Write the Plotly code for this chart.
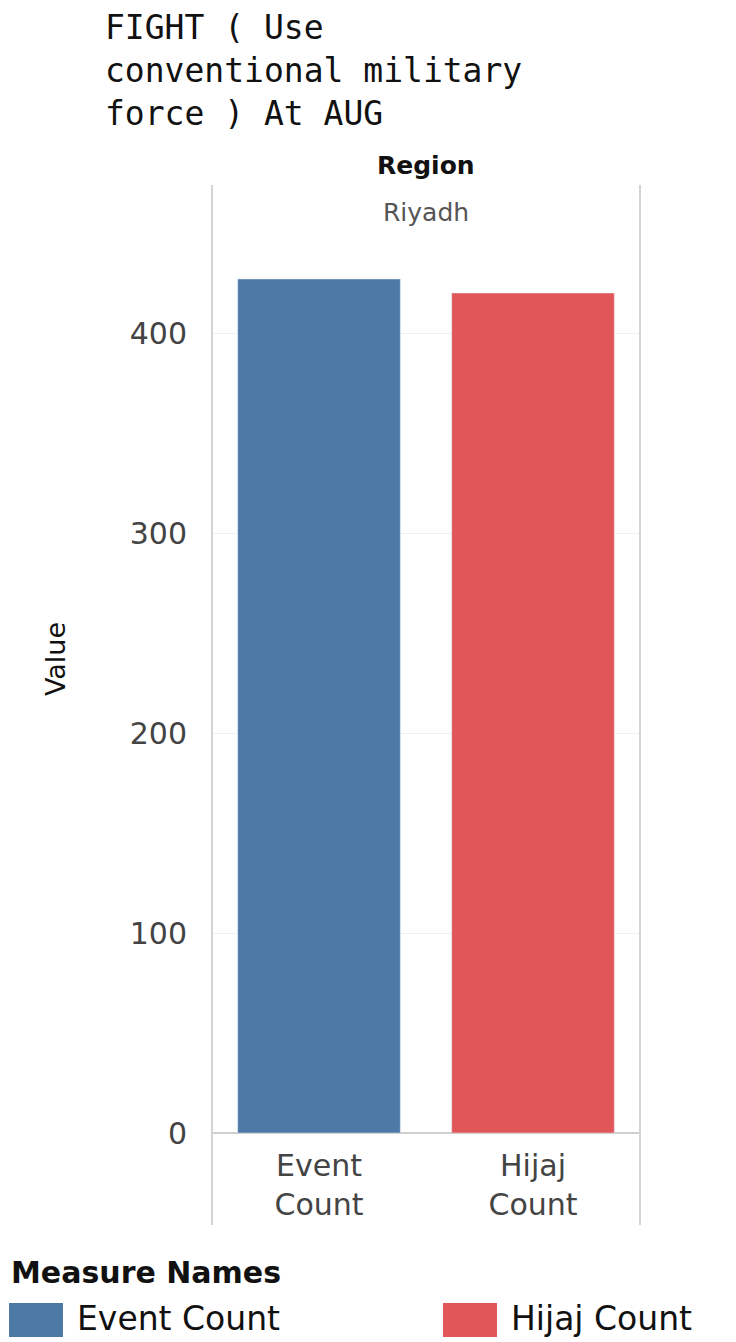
import plotly.graph_objects as go

categories = ["Event Count", "Hijaj Count"]
tick_labels = ["Event<br>Count", "Hijaj<br>Count"]
values = [427, 420]
colors = ["#4E79A7", "#E15759"]
title_lines = ["FIGHT ( Use", "conventional military", "force ) At AUG"]
region_header = "Region"
region_value = "Riyadh"
legend_title = "Measure Names"

OFF = 8  # page body margin
W, H = 736 - OFF, 1342 - OFF
# plot area in reference pixels: x 212..640, y 185..1133
L, R, T, B = 212 - OFF, W - (640 - OFF), 185 - OFF, H - (1133 - OFF)
plot_w = W - L - R
plot_h = H - T - B

def py(pix):
    return (H - B - (pix - OFF)) / plot_h

def px(pix):
    return ((pix - OFF) - L) / plot_w

fig = go.Figure()
for cat, val, col in zip(categories, values, colors):
    fig.add_trace(go.Bar(x=[cat], y=[val], name=cat, marker_color=col,
                         width=0.76, showlegend=False))

fig.update_layout(
    width=W, height=H,
    margin=dict(l=L, r=R, t=T, b=B, autoexpand=False),
    plot_bgcolor="white", paper_bgcolor="white",
    font=dict(family="DejaVu Sans", color="#333"),
    showlegend=False,
    xaxis=dict(tickmode="array", tickvals=categories, ticktext=tick_labels,
               tickfont=dict(size=30, color="#444"), showgrid=False,
               showline=False, zeroline=False, ticks="", automargin=False,
               ticklabelstandoff=12),
    yaxis=dict(range=[0, 474], tickvals=[0, 100, 200, 300, 400],
               tickfont=dict(size=30, color="#444"), showgrid=True,
               gridcolor="#f0f0f0", gridwidth=1, zeroline=True,
               zerolinecolor="#cfcfcf", zerolinewidth=2, automargin=False,
               title=dict(text="Value", font=dict(size=27, color="#111"),
                          standoff=56), ticklabelstandoff=24),
)

fig.add_annotation(text="<br>".join(title_lines), xref="paper", yref="paper",
                   x=px(103), xanchor="left", align="left",
                   y=py(6), yanchor="top", showarrow=False,
                   font=dict(family="DejaVu Sans Mono", size=33, color="#111"))

fig.add_annotation(text="<b>" + region_header + "</b>", xref="paper", yref="paper",
                   x=0.5, y=py(165), yanchor="middle", showarrow=False,
                   font=dict(size=25, color="#111"))
fig.add_annotation(text=region_value, xref="paper", yref="paper",
                   x=0.5, y=py(213), yanchor="middle", showarrow=False,
                   font=dict(size=25, color="#555"))

for xp in [0, 1]:
    fig.add_shape(type="line", xref="paper", yref="paper", x0=xp, x1=xp,
                  y0=py(1225), y1=py(185), line=dict(color="#d4d4d4", width=2))

# legend drawn manually
fig.add_annotation(text="<b>" + legend_title + "</b>", xref="paper", yref="paper",
                   x=px(9), xanchor="left", y=py(1272), yanchor="middle",
                   showarrow=False, font=dict(size=30, color="#111"))
for cat, col, x0 in zip(categories, colors, [9, 443]):
    fig.add_shape(type="rect", xref="paper", yref="paper",
                  x0=px(x0), x1=px(x0 + 54), y0=py(1337), y1=py(1303),
                  fillcolor=col, line=dict(width=0))
    fig.add_annotation(text=cat, xref="paper", yref="paper",
                       x=px(x0 + 66), xanchor="left", y=py(1318), yanchor="middle",
                       showarrow=False, font=dict(size=33, color="#111"))

fig.write_html("out.html")
